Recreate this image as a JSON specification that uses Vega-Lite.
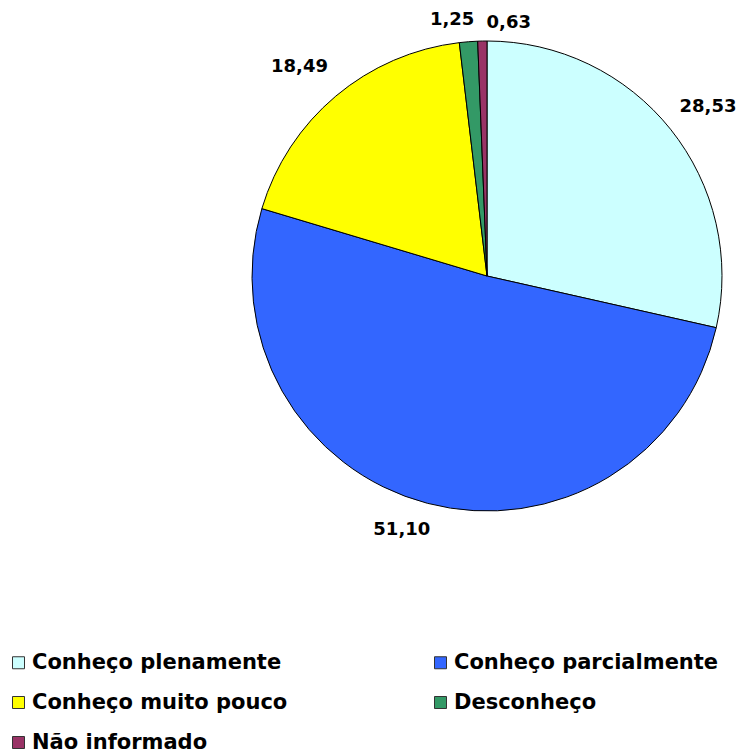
{
  "$schema": "https://vega.github.io/schema/vega-lite/v6.json",
  "autosize": "none",
  "width": 470,
  "height": 470,
  "padding": {"left": 252, "top": 41, "right": 16, "bottom": 243},
  "background": "white",
  "data": {
    "values": [
      {"categoria": "Conheço plenamente", "valor": 28.53, "rotulo": "28,53", "ordem": 1},
      {"categoria": "Conheço parcialmente", "valor": 51.10, "rotulo": "51,10", "ordem": 2},
      {"categoria": "Conheço muito pouco", "valor": 18.49, "rotulo": "18,49", "ordem": 3},
      {"categoria": "Desconheço", "valor": 1.25, "rotulo": "1,25", "ordem": 4},
      {"categoria": "Não informado", "valor": 0.63, "rotulo": "0,63", "ordem": 5}
    ]
  },
  "encoding": {
    "theta": {"field": "valor", "type": "quantitative", "stack": true},
    "order": {"field": "ordem", "type": "quantitative"}
  },
  "layer": [
    {
      "mark": {"type": "arc", "stroke": "#000000", "strokeWidth": 1},
      "encoding": {
        "color": {
          "field": "categoria",
          "type": "nominal",
          "scale": {
            "domain": ["Conheço plenamente", "Conheço parcialmente", "Conheço muito pouco", "Desconheço", "Não informado"],
            "range": ["#CCFFFF", "#3366FF", "#FFFF00", "#339966", "#993366"]
          },
          "legend": {
            "title": null,
            "orient": "none",
            "direction": "horizontal",
            "legendX": -244,
            "legendY": 611,
            "columns": 2,
            "columnPadding": 142,
            "rowPadding": 18,
            "padding": 0,
            "symbolType": "square",
            "symbolSize": 144,
            "symbolStrokeColor": "#333333",
            "symbolStrokeWidth": 1,
            "symbolOpacity": 1,
            "labelFont": "DejaVu Sans",
            "labelFontWeight": "bold",
            "labelFontSize": 21,
            "labelColor": "#000000",
            "labelOffset": 3,
            "labelLimit": 400
          }
        }
      }
    },
    {
      "mark": {"type": "text", "radius": 265, "dx": 14, "dy": -4, "font": "DejaVu Sans", "fontWeight": "bold", "fontSize": 18, "color": "#000000"},
      "encoding": {"text": {"condition": {"test": "datum.ordem == 1", "field": "rotulo"}, "value": ""}}
    },
    {
      "mark": {"type": "text", "radius": 265, "dx": -18, "dy": -2, "font": "DejaVu Sans", "fontWeight": "bold", "fontSize": 18, "color": "#000000"},
      "encoding": {"text": {"condition": {"test": "datum.ordem == 2", "field": "rotulo"}, "value": ""}}
    },
    {
      "mark": {"type": "text", "radius": 265, "dx": -17, "dy": -6, "font": "DejaVu Sans", "fontWeight": "bold", "fontSize": 18, "color": "#000000"},
      "encoding": {"text": {"condition": {"test": "datum.ordem == 3", "field": "rotulo"}, "value": ""}}
    },
    {
      "mark": {"type": "text", "radius": 265, "dx": -14, "dy": 8, "font": "DejaVu Sans", "fontWeight": "bold", "fontSize": 18, "color": "#000000"},
      "encoding": {"text": {"condition": {"test": "datum.ordem == 4", "field": "rotulo"}, "value": ""}}
    },
    {
      "mark": {"type": "text", "radius": 265, "dx": 27, "dy": 12, "font": "DejaVu Sans", "fontWeight": "bold", "fontSize": 18, "color": "#000000"},
      "encoding": {"text": {"condition": {"test": "datum.ordem == 5", "field": "rotulo"}, "value": ""}}
    }
  ],
  "config": {"view": {"stroke": null}}
}
